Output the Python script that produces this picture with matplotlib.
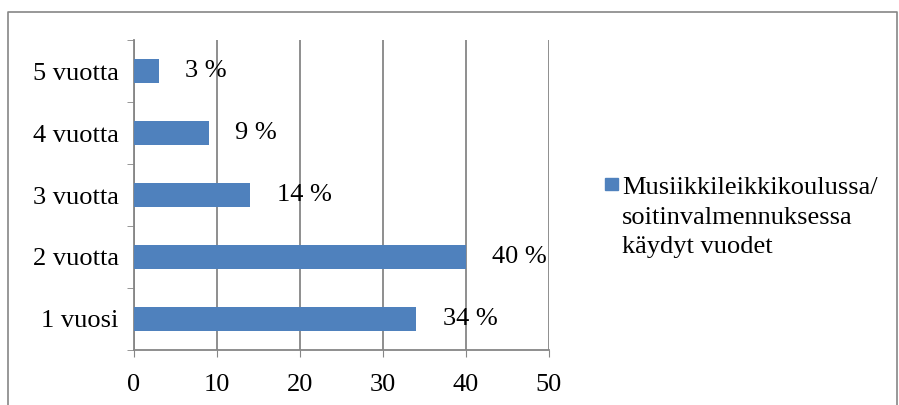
import matplotlib.pyplot as plt
from matplotlib.patches import Rectangle
from matplotlib.lines import Line2D

categories = ["1 vuosi", "2 vuotta", "3 vuotta", "4 vuotta", "5 vuotta"]
values = [34, 40, 14, 9, 3]
labels = ["34 %", "40 %", "14 %", "9 %", "3 %"]
series_name = "Musiikkileikkikoulussa/\nsoitinvalmennuksessa\nkäydyt vuodet"

plt.rcParams['font.family'] = ['Liberation Serif', 'DejaVu Serif']
bar_color = '#4F81BD'
grid_color = '#868686'
fs = 19

fig = plt.figure(figsize=(8.99, 4.05), dpi=100)
ax = fig.add_axes([0.149, 0.136, 0.4616, 0.765])

ypos = range(len(categories))
ax.barh(ypos, values, height=0.39, color=bar_color, zorder=3)

for y, v, lab in zip(ypos, values, labels):
    ax.annotate(lab, (v, y), xytext=(19, 0), textcoords='offset points',
                va='center', ha='left', fontsize=fs, zorder=4)

ax.set_xlim(0, 50)
ax.set_ylim(-0.5, len(categories) - 0.5)
ax.set_xticks(range(0, 51, 10))
ax.set_yticks(list(ypos))
ax.set_yticklabels(categories)
ax.set_yticks([i - 0.5 for i in range(len(categories) + 1)], minor=True)
ax.tick_params(axis='y', which='major', length=0, pad=11, labelsize=fs)
ax.tick_params(axis='y', which='minor', length=5, color=grid_color, direction='out')
ax.tick_params(axis='x', length=5, color=grid_color, direction='out', labelsize=fs, pad=12)

ax.grid(axis='x', color=grid_color, linewidth=1.3, zorder=0)
for s in ['top', 'right']:
    ax.spines[s].set_visible(False)
for s in ['left', 'bottom']:
    ax.spines[s].set_color(grid_color)
    ax.spines[s].set_linewidth(1.3)

# legend: square next to the first line of the name
fig.add_artist(Rectangle((605 / 899, 1 - 190 / 405), 13 / 899, 12 / 405,
                         transform=fig.transFigure, color=bar_color))
fig.text(622 / 899, 1 - 177 / 405, series_name, fontsize=fs, va='top', ha='left',
         linespacing=1.45)

# chart border
fig.add_artist(Line2D([0.0089, 0.0089, 0.998, 0.998], [0, 0.970, 0.970, 0],
                      transform=fig.transFigure, color=grid_color, linewidth=1.2))

fig.savefig('out.png', dpi=100)
